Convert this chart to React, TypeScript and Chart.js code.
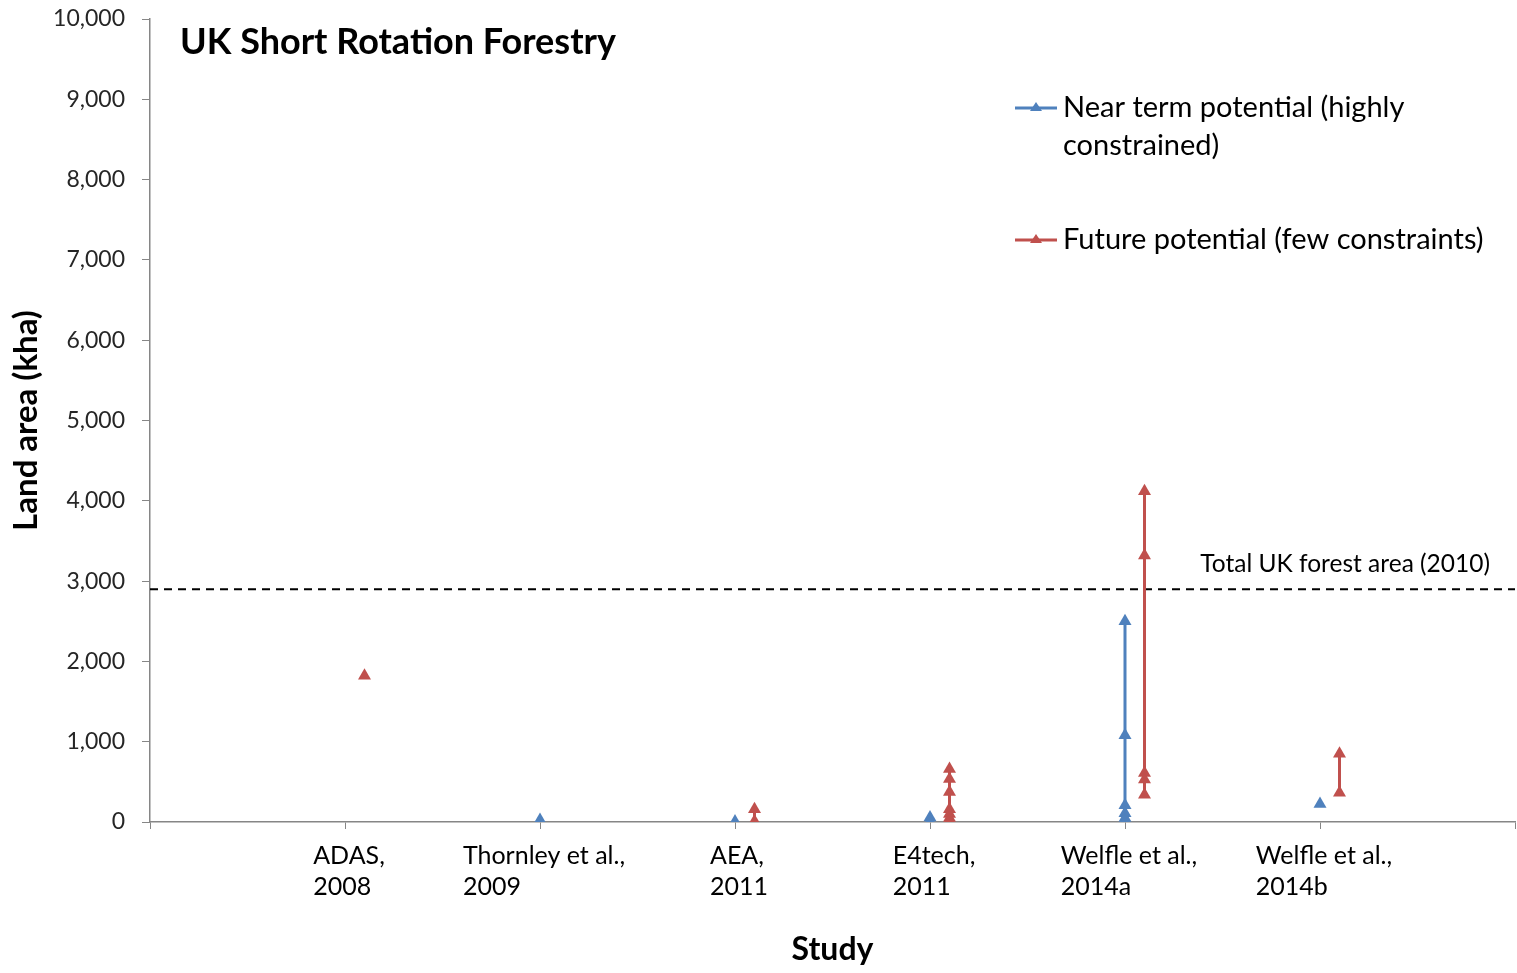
import React, { useEffect, useRef } from 'react';
import { Chart, registerables } from 'chart.js';

Chart.register(...registerables);

const chartTitle = 'UK Short Rotation Forestry';
const studies: string[][] = [
  ['ADAS,', '2008'],
  ['Thornley et al.,', '2009'],
  ['AEA,', '2011'],
  ['E4tech,', '2011'],
  ['Welfle et al.,', '2014a'],
  ['Welfle et al.,', '2014b'],
];
const nearTermLabel = ['Near term potential (highly', 'constrained)'];
const futureLabel = ['Future potential (few constraints)'];
const nearTermValues: number[][] = [
  [],
  [25],
  [5],
  [55, 10],
  [2500, 1080, 210, 110, 50, 10],
  [225],
];
const futureValues: number[][] = [
  [1820],
  [],
  [160, 10],
  [660, 535, 375, 160, 100, 50, 10],
  [4120, 3320, 610, 530, 340],
  [850, 365],
];
const futureOffset = 0.1;
const forestArea = 2900;
const forestLabel = 'Total UK forest area (2010)';
const yAxisTitle = 'Land area (kha)';
const xAxisTitle = 'Study';
const yMax = 10000;
const yStep = 1000;

const BLUE = '#4F81BD';
const RED = '#C0504D';
const FONT = 'Lato, "Open Sans", sans-serif';

function buildPoints(values: number[][], offset: number) {
  const pts: { x: number; y: number | null }[] = [];
  values.forEach((vals, i) => {
    vals.forEach((v) => pts.push({ x: i + 1 + offset, y: v }));
    pts.push({ x: i + 1 + offset, y: null });
  });
  return pts;
}

const textPlugin = {
  id: 'customText',
  afterDraw(chart: any) {
    const { ctx, chartArea } = chart;
    const xs = chart.scales.x;
    const ys = chart.scales.y;
    ctx.save();
    // title
    ctx.fillStyle = '#000';
    ctx.textBaseline = 'middle';
    ctx.textAlign = 'left';
    ctx.font = `bold 36px ${FONT}`;
    ctx.fillText(chartTitle, chartArea.left + 30, 42);

    // category labels
    ctx.font = `25px ${FONT}`;
    studies.forEach((lines, i) => {
      const px = xs.getPixelForValue(i + 1);
      const w = Math.max(...lines.map((l) => ctx.measureText(l).width));
      const left = px - w / 2 + 4;
      lines.forEach((l, j) => {
        ctx.fillText(l, left, chartArea.bottom + 34 + j * 31);
      });
    });

    // annotation
    ctx.font = `24.5px ${FONT}`;
    ctx.textAlign = 'right';
    ctx.fillText(forestLabel, chartArea.right - 25, ys.getPixelForValue(forestArea) - 25);

    // legend
    const entries = [
      { color: BLUE, lines: nearTermLabel, y: 108 },
      { color: RED, lines: futureLabel, y: 240 },
    ];
    ctx.textAlign = 'left';
    ctx.font = `29px ${FONT}`;
    entries.forEach((e) => {
      ctx.strokeStyle = e.color;
      ctx.lineWidth = 3;
      ctx.beginPath();
      ctx.moveTo(1015, e.y);
      ctx.lineTo(1057, e.y);
      ctx.stroke();
      ctx.fillStyle = e.color;
      ctx.beginPath();
      ctx.moveTo(1036, e.y - 6);
      ctx.lineTo(1042, e.y + 3);
      ctx.lineTo(1030, e.y + 3);
      ctx.closePath();
      ctx.fill();
      ctx.fillStyle = '#000';
      e.lines.forEach((l, j) => ctx.fillText(l, 1063, e.y + j * 38));
    });
    ctx.restore();
  },
};

export default function App() {
  const ref = useRef<HTMLCanvasElement>(null);
  useEffect(() => {
    if (!ref.current) return;
    const chart = new Chart(ref.current, {
      type: 'line',
      data: {
        datasets: [
          {
            label: 'Near term potential (highly constrained)',
            data: buildPoints(nearTermValues, 0),
            borderColor: BLUE,
            backgroundColor: BLUE,
            borderWidth: 3,
            pointStyle: 'triangle',
            pointRadius: 7.5,
            pointBorderWidth: 0,
            spanGaps: false,
          },
          {
            label: 'Future potential (few constraints)',
            data: buildPoints(futureValues, futureOffset),
            borderColor: RED,
            backgroundColor: RED,
            borderWidth: 3,
            pointStyle: 'triangle',
            pointRadius: 7.5,
            pointBorderWidth: 0,
            spanGaps: false,
          },
          {
            label: forestLabel,
            data: [
              { x: 0, y: forestArea },
              { x: 7, y: forestArea },
            ],
            borderColor: '#000',
            borderWidth: 2,
            borderDash: [8, 6],
            pointRadius: 0,
          },
        ],
      },
      options: {
        animation: false,
        responsive: true,
        maintainAspectRatio: false,
        layout: { autoPadding: false, padding: { left: 0, right: 2, top: 19, bottom: 0 } },
        plugins: {
          legend: { display: false },
          title: { display: false },
          tooltip: { enabled: false },
        },
        scales: {
          x: {
            type: 'linear',
            min: 0,
            max: 7,
            afterFit: (s: any) => {
              s.height = 151;
              s.paddingLeft = 0;
              s.paddingRight = 0;
            },
            ticks: { stepSize: 1, display: false },
            grid: {
              drawOnChartArea: false,
              drawTicks: true,
              tickLength: 7,
              color: '#868686',
            },
            border: { color: '#868686', width: 1.5 },
            title: {
              display: true,
              text: xAxisTitle,
              color: '#000',
              font: { family: FONT, size: 32, weight: 'bold' },
              padding: { top: 0, bottom: 4 },
            },
          },
          y: {
            type: 'linear',
            min: 0,
            max: yMax,
            afterFit: (s: any) => {
              s.width = 150;
              s.paddingTop = 0;
              s.paddingBottom = 0;
            },
            ticks: {
              stepSize: yStep,
              color: '#262626',
              padding: 17,
              font: { family: FONT, size: 23 },
              callback: (v: any) => Number(v).toLocaleString('en-US'),
            },
            grid: {
              drawOnChartArea: false,
              drawTicks: true,
              tickLength: 8,
              color: '#868686',
            },
            border: { color: '#868686', width: 1.5 },
            title: {
              display: true,
              text: yAxisTitle,
              color: '#000',
              font: { family: FONT, size: 33, weight: 'bold' },
              padding: { top: 7, bottom: 0 },
            },
          },
        },
      },
      plugins: [textPlugin],
    });
    return () => chart.destroy();
  }, []);
  return (
    <div style={{ position: 'absolute', left: 0, top: 0, width: 1517, height: 973, background: '#fff' }}>
      <canvas ref={ref} />
    </div>
  );
}
